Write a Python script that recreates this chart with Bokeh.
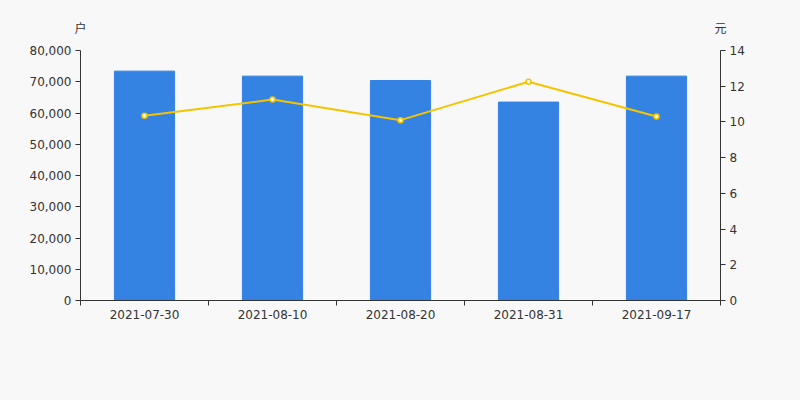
from bokeh.plotting import figure
from bokeh.models import (Range1d, LinearAxis, FixedTicker, NumeralTickFormatter,
                          ColumnDataSource)
from bokeh.embed import file_html
from bokeh.resources import INLINE

dates = ["2021-07-30", "2021-08-10", "2021-08-20", "2021-08-31", "2021-09-17"]
holders = [73400, 71800, 70400, 63500, 71800]
prices = [10.35, 11.25, 10.10, 12.25, 10.30]
units = ["户", "元"]

xs = [i + 0.5 for i in range(len(dates))]
src = ColumnDataSource(dict(x=xs, holders=holders, prices=prices))

BG = "#f8f8f8"
TXT = "#333333"

p = figure(width=800, height=400, output_backend="svg", toolbar_location=None,
           x_range=Range1d(0, len(dates)), y_range=Range1d(0, 80000),
           background_fill_color=BG, border_fill_color=BG,
           min_border_left=80, min_border_right=80, min_border_top=50,
           min_border_bottom=100, outline_line_color=None)
p.grid.visible = False

p.extra_y_ranges = {"price": Range1d(0, 14)}

p.vbar(x="x", top="holders", width=0.47, source=src, color="#3482e2")
p.line(x="x", y="prices", source=src, y_range_name="price",
       line_color="#f5c400", line_width=2)
p.scatter(x="x", y="prices", source=src, y_range_name="price", size=5,
          fill_color="white", line_color="#f5c400", line_width=1.5)


def style_axis(ax):
    ax.major_tick_in = 0
    ax.minor_tick_in = 0
    ax.minor_tick_out = 0
    ax.axis_line_color = TXT
    ax.major_tick_line_color = TXT
    ax.major_label_text_font = "DejaVu Sans"
    ax.major_label_text_font_size = "12px"
    ax.major_label_text_color = TXT


# x axis
xa = p.xaxis[0]
style_axis(xa)
xa.ticker = FixedTicker(ticks=xs, minor_ticks=list(range(len(dates) + 1)))
xa.major_label_overrides = {x: d for x, d in zip(xs, dates)}
xa.major_tick_out = 0
xa.minor_tick_out = 5
xa.minor_tick_line_color = TXT
xa.major_label_standoff = 4

# left axis
ya = p.yaxis[0]
style_axis(ya)
ya.ticker = FixedTicker(ticks=list(range(0, 80001, 10000)))
ya.formatter = NumeralTickFormatter(format="0,0")
ya.major_tick_out = 5
ya.major_label_standoff = 4

# right axis
ra = LinearAxis(y_range_name="price", ticker=FixedTicker(ticks=list(range(0, 15, 2))))
style_axis(ra)
ra.major_tick_out = 5
ra.major_label_standoff = 4
p.add_layout(ra, "right")

# unit labels above the two y axes
ua = LinearAxis(ticker=FixedTicker(ticks=[0, len(dates)]))
ua.major_label_overrides = {0: units[0], len(dates): units[1]}
ua.axis_line_color = None
ua.major_tick_line_color = None
ua.minor_tick_line_color = None
ua.major_label_text_font = "Noto Sans CJK SC"
ua.major_label_text_font_size = "12px"
ua.major_label_text_color = TXT
ua.major_label_standoff = 9
p.add_layout(ua, "above")

html = file_html(p, INLINE)
html = html.replace("<body>", '<body style="background:#f8f8f8">')
open("out.html", "w").write(html)
